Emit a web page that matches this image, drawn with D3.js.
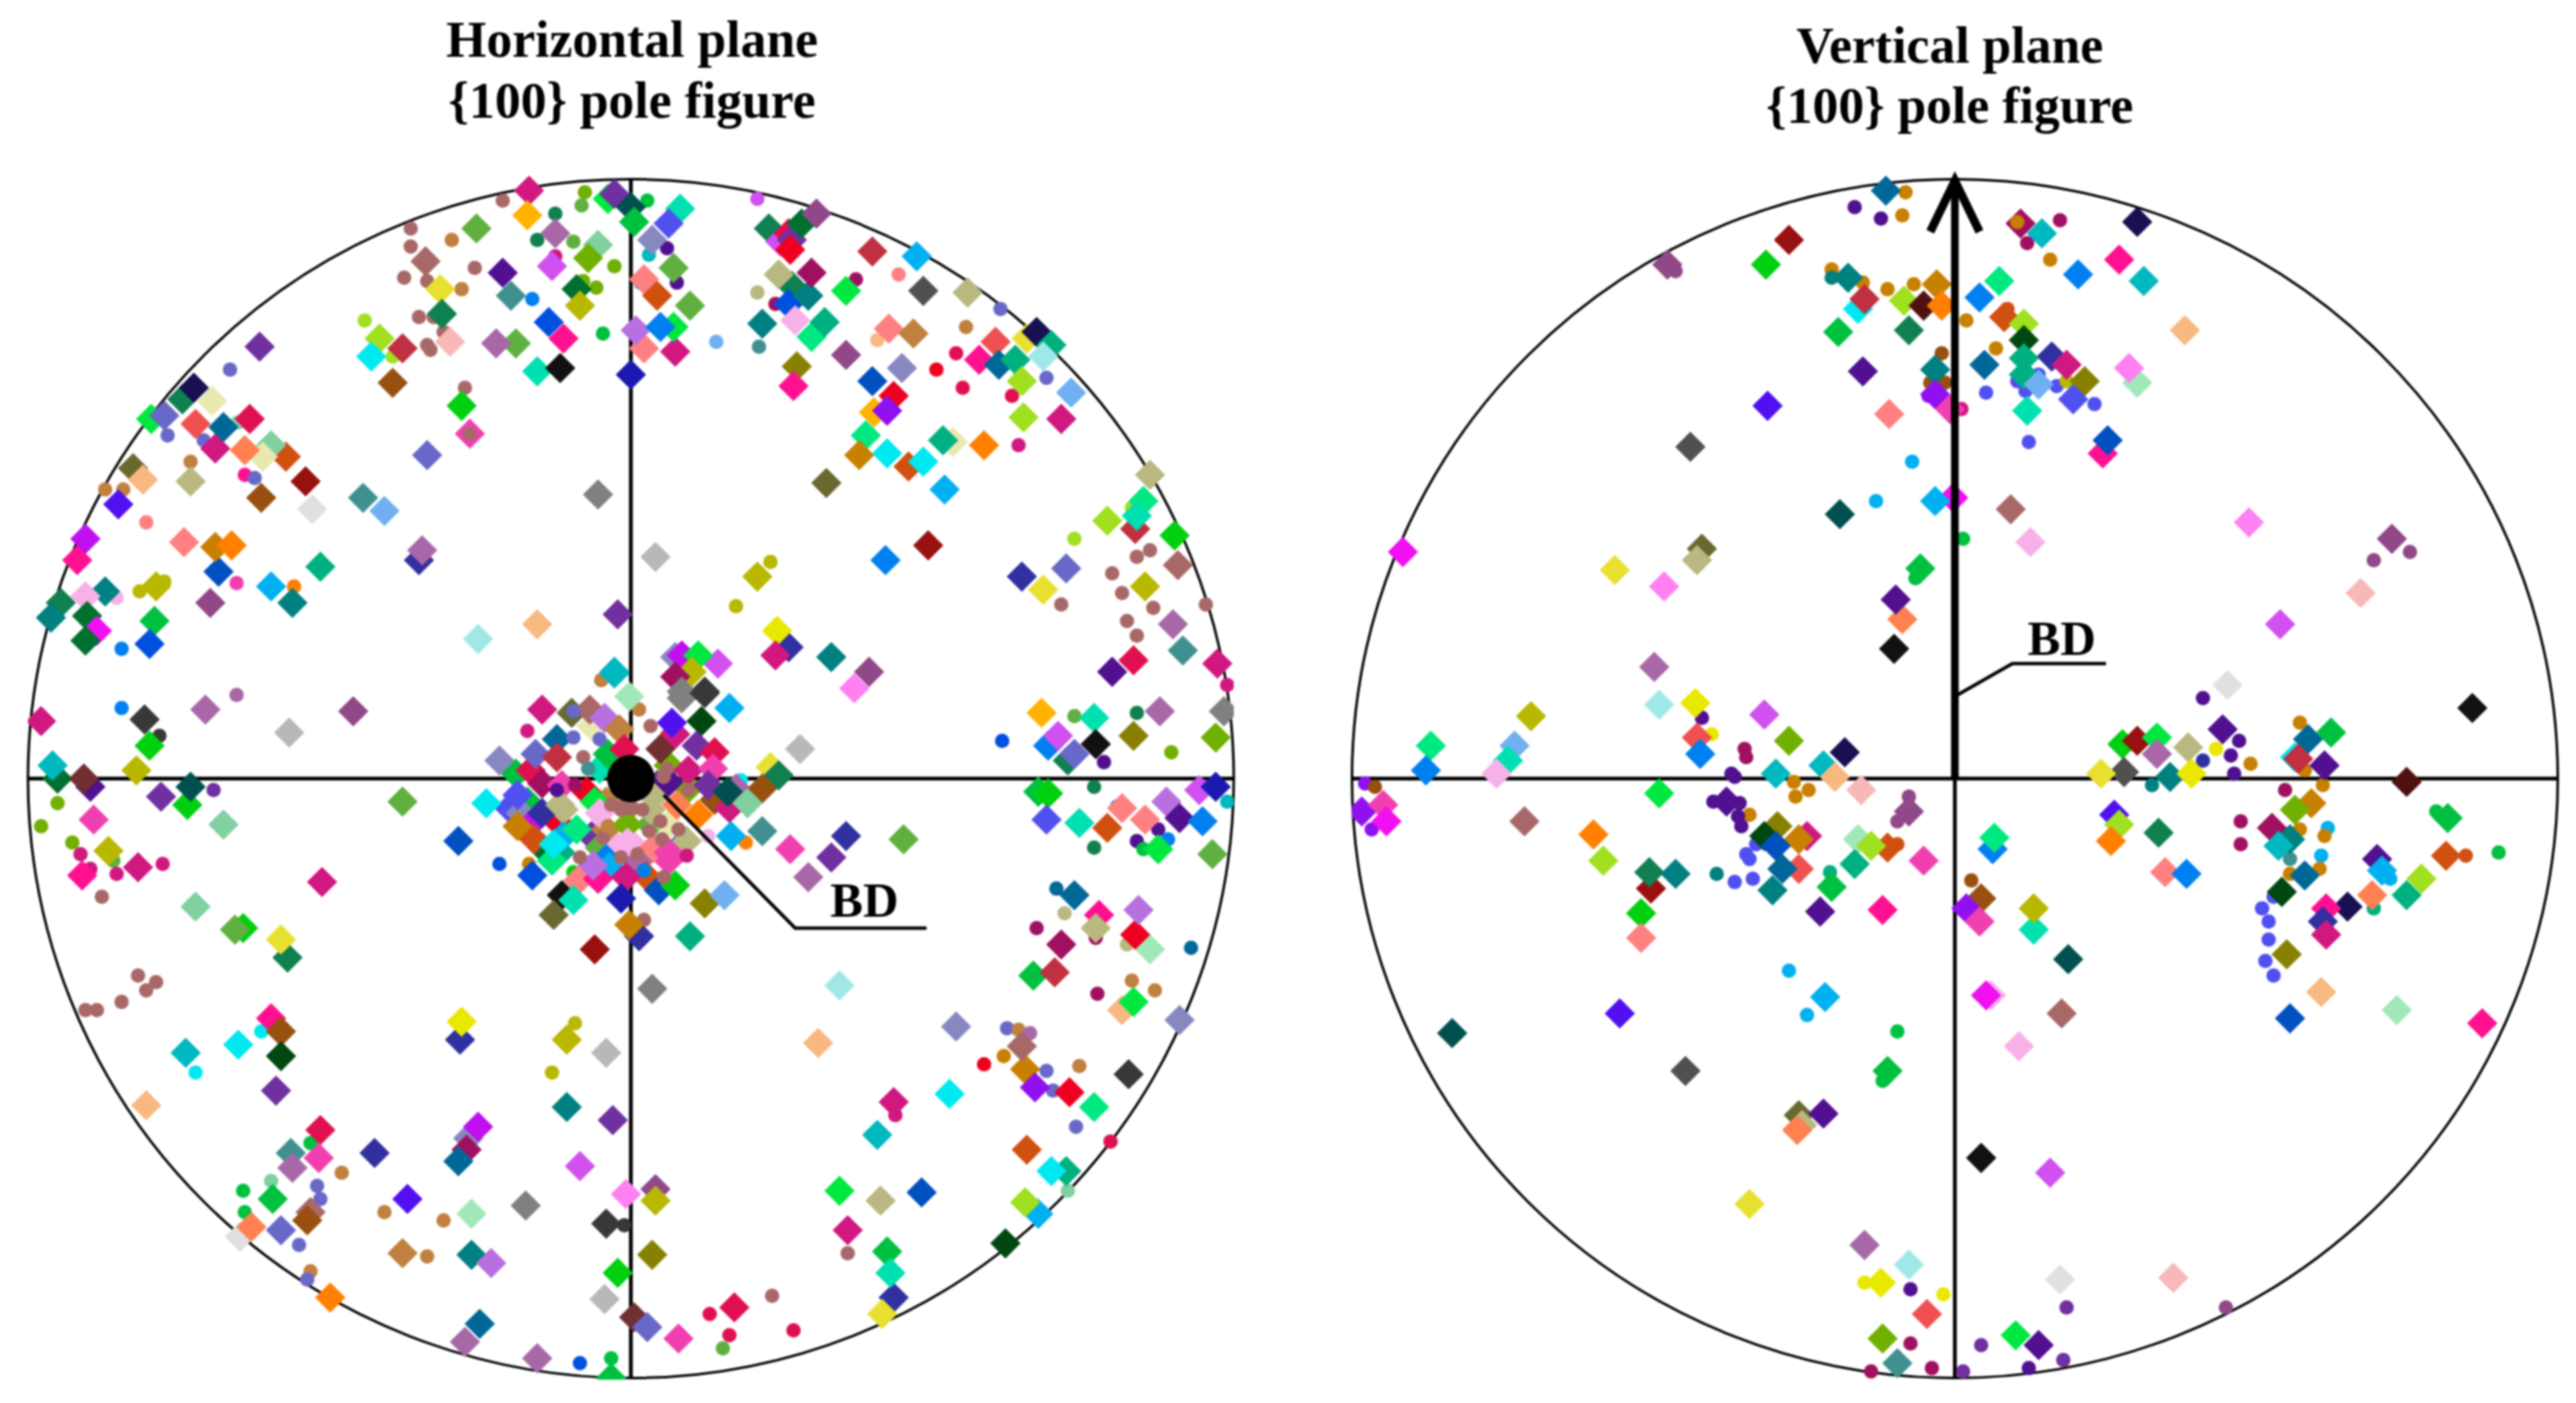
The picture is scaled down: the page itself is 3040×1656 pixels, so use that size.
<!DOCTYPE html>
<html><head><meta charset="utf-8">
<script src="https://cdn.jsdelivr.net/npm/d3@7/dist/d3.min.js"></script>
<style>html,body{margin:0;padding:0;background:#fff}svg{display:block;filter:blur(0.8px)}text{font-family:"Liberation Serif",serif;font-weight:bold;fill:#000}</style>
</head><body><div id="chart"></div>
<script>
// Each row: [pole-figure x, pole-figure y, grain colour class]. Circle extent = poleExtentX / poleExtentY.
const poleExtentX = 367, poleExtentY = 365;
const titles = {left:["Horizontal plane","{100} pole figure"], right:["Vertical plane","{100} pole figure"]};
const bdLabel = "BD";
const grainClasses = ["rose","pink","hotpink","magenta","orchid","violet","purple","dpurple","vio2","indigo","iris","slate","lav","lilac","plum","mauve","wine","crimson","red","dred","brick","coral","salmon","peach","lpink","spink","mpink","orange","dorange","lorange","amber","ochre","tan","brown","maroon","dmaroon","rosewood","yellow","lyellow","olive","golive","khaki","pale","dolive","lime","lgreen","green","bgreen","pure","dgreen","fgreen","sage","mgreen","mint","sea","spring","aqua","jade","teal","dteal","cyan","dcyan","lcyan","steel","sky","lsky","azure","blue","dblue","navy","midnight","ocean","cobalt","black","char","dgray","gray","lgray","silver"];
const grainColors = ["#d01880","#ff1090","#f040b0","#f010f0","#d050f0","#c010f0","#7030a0","#501090","#9010f0","#5010f0","#5050f0","#6868c8","#8888c0","#b870e0","#a868a8","#904888","#a01060","#e01050","#f00020","#981010","#c03040","#f05050","#ff8080","#f8b880","#f8b0e8","#f8b8b8","#ff80f0","#ff8000","#d05010","#ff8050","#ffb300","#c88000","#c08040","#985010","#703030","#501010","#a86868","#e8e800","#e8e030","#888000","#b8b800","#b8b880","#e8e8b0","#686830","#a0e020","#70b000","#00c040","#00e840","#00d010","#007030","#004810","#60b040","#108050","#a0e8b8","#80d0a0","#00e880","#00e0b0","#00b080","#008080","#005050","#00e8f0","#00b8c0","#a0e8e8","#409090","#00b0f0","#70b0f0","#0080f0","#0050e0","#0050c0","#1a1ab0","#181050","#006898","#3030a0","#111111","#383838","#505050","#808080","#b8b8b8","#e0e0e0"];

const hDots = [
[-78,352,"rosewood"],[-28,357,"lgreen"],[-30,349,"sage"],[-46,344,"mgreen"],[10,352,"green"],[2,339,"purple"],[77,353,"orchid"],[85,336,"ocean"],[22,323,"dpurple"],[11,319,"dcyan"],[-35,327,"sage"],[-57,328,"mgreen"],[-10,312,"lgreen"],[-46,318,"rose"],[-29,303,"lgreen"],[-21,299,"lgreen"],[-60,292,"azure"],[6,302,"azure"],[28,302,"dpurple"],[-17,271,"green"],[52,266,"lsky"],[78,263,"steel"],[77,296,"khaki"],[88,289,"wine"],[137,304,"wine"],[163,307,"salmon"],[150,267,"peach"],[204,275,"tan"],[225,286,"slate"],[198,259,"crimson"],[186,249,"red"],[202,238,"crimson"],[232,233,"crimson"],[253,244,"slate"],[236,203,"rose"],
[-134,335,"rosewood"],[-134,324,"rosewood"],[-109,328,"tan"],[-95,311,"rosewood"],[-138,305,"rosewood"],[-124,303,"rosewood"],[-103,298,"tan"],[-129,281,"rosewood"],[-120,281,"rosewood"],[-114,272,"rosewood"],[-124,264,"rosewood"],[-122,261,"rosewood"],[-145,257,"lime"],[-162,279,"lime"],[-244,249,"slate"],[-101,238,"rosewood"],[-239,217,"sea"],[-282,209,"slate"],[-260,206,"slate"],[-268,193,"tan"],[-235,185,"pink"],[-229,183,"slate"],[-320,176,"tan"],[-309,176,"tan"],[-295,156,"salmon"],[-205,117,"orange"],[-240,119,"hotpink"],[-299,114,"golive"],[-284,120,"golive"],[-313,110,"lpink"],[-310,79,"azure"],[-240,51,"plum"],[85,132,"golive"],[64,105,"golive"],[270,146,"lime"],[305,165,"lime"],[316,139,"rosewood"],[308,135,"rosewood"],[293,125,"rosewood"],[299,113,"rosewood"],[262,106,"rosewood"],[318,104,"rosewood"],[302,96,"rosewood"],[308,87,"rosewood"],[350,106,"rosewood"],[363,57,"rose"],[-18,60,"tan"],
[-310,43,"azure"],[-287,26,"char"],[-254,-7,"purple"],[-349,-15,"lgreen"],[-359,-29,"lgreen"],[-340,-39,"lgreen"],[-335,-46,"rose"],[-329,-55,"rose"],[-315,-50,"sage"],[-313,-58,"rose"],[-285,-52,"rose"],[-322,-72,"rosewood"],[-300,-120,"rosewood"],[-289,-124,"rosewood"],[-295,-129,"rosewood"],[-310,-136,"rosewood"],[-325,-141,"rosewood"],[-332,-141,"rosewood"],[-225,-154,"cyan"],[-265,-179,"cyan"],[-195,-222,"green"],[-176,-240,"tan"],[-236,-251,"green"],[-219,-245,"sea"],[-191,-248,"slate"],[-189,-256,"slate"],[-235,-264,"green"],[-202,-284,"slate"],[-195,-300,"tan"],[-197,-305,"slate"],[-150,-264,"tan"],[-114,-269,"tan"],[-124,-291,"tan"],[-4,-272,"char"],[-34,-149,"golive"],[-48,-179,"golive"],[-31,-356,"blue"],[-12,-353,"green"],[56,-347,"sage"],[60,-339,"crimson"],[48,-326,"crimson"],[99,-336,"crimson"],[86,-315,"rosewood"],[132,-289,"rosewood"],[161,-205,"rose"],[266,-251,"sea"],[292,-221,"crimson"],[271,-212,"slate"],[215,-174,"red"],[227,-169,"ochre"],[253,-178,"slate"],[257,-190,"slate"],[273,-175,"tan"],[229,-152,"slate"],[236,-153,"tan"],[243,-155,"plum"],[305,-123,"tan"],[319,-129,"tan"],[284,-131,"wine"],[341,-103,"ocean"],[302,-101,"khaki"],[247,-91,"wine"],[264,-82,"khaki"],[259,-67,"ocean"],[283,-97,"wine"],[226,23,"blue"],[329,16,"lgreen"],[308,40,"mgreen"],[270,38,"sage"],[288,10,"dpurple"],[282,-5,"mgreen"],[296,-17,"azure"],[321,-31,"dpurple"],[327,-37,"azure"],[308,-38,"dpurple"],[312,-43,"green"],[282,-42,"mgreen"],[363,-14,"dcyan"],[-63,29,"rose"],[-80,-52,"blue"],[-62,-52,"ochre"],[-18,60,"tan"],[5,42,"tan"],[12,32,"rosewood"],[22,26,"tan"],[8,-86,"rosewood"],[70,-39,"orange"],[47,-35,"lpink"],[-35,-57,"pure"],[67,-1,"cyan"]
];
const hDiamonds = [
[-14,353,"bgreen"],[-62,358,"rose"],[-63,343,"amber"],[-46,332,"plum"],[-94,335,"sage"],[-10,356,"purple"],[0,348,"dteal"],[30,347,"aqua"],[23,338,"iris"],[13,328,"lav"],[2,339,"green"],[-20,325,"sea"],[-26,317,"lgreen"],[-48,312,"orchid"],[-78,308,"dpurple"],[-116,298,"lyellow"],[-125,315,"rosewood"],[-73,294,"steel"],[-33,298,"dgreen"],[-31,288,"golive"],[-50,278,"blue"],[-41,268,"pink"],[-70,265,"sage"],[-82,265,"plum"],[-115,283,"mgreen"],[-110,266,"spink"],[-139,262,"brick"],[-153,268,"lime"],[-158,257,"cyan"],[-145,241,"brown"],[-226,263,"purple"],[-57,248,"aqua"],[-43,250,"black"],[0,246,"navy"],[8,262,"salmon"],[27,260,"rose"],[26,275,"bgreen"],[3,273,"lilac"],[18,275,"azure"],[8,304,"salmon"],[16,294,"dorange"],[36,288,"sage"],[26,311,"sage"],
[84,335,"mgreen"],[91,327,"orchid"],[96,332,"crimson"],[98,328,"purple"],[98,300,"mgreen"],[96,289,"blue"],
[80,277,"teal"],[101,251,"olive"],[99,239,"pink"],[131,258,"mauve"],[110,269,"spring"],[118,278,"jade"],[100,279,"lpink"],[108,294,"teal"],[90,307,"khaki"],[110,308,"wine"],[97,322,"red"],[104,338,"dgreen"],[113,344,"mauve"],[131,297,"bgreen"],[147,321,"brick"],[174,318,"sky"],[178,297,"dgray"],[205,296,"khaki"],[157,274,"salmon"],[172,271,"tan"],[165,250,"lav"],[147,242,"dblue"],[148,223,"amber"],[160,233,"red"],[156,224,"vio2"],[143,209,"spring"],[139,197,"ochre"],[169,190,"dorange"],[156,198,"cyan"],[178,193,"cyan"],[196,205,"pale"],[190,206,"jade"],[215,203,"orange"],[191,176,"sky"],[119,180,"dolive"],[212,255,"pink"],[222,266,"coral"],[224,252,"ocean"],[234,255,"jade"],[241,268,"lyellow"],[247,272,"midnight"],[256,264,"jade"],[251,257,"lcyan"],[238,242,"lime"],[268,235,"lsky"],[239,220,"lime"],[262,219,"rose"],[316,185,"khaki"],[312,169,"spring"],[307,152,"brick"],[308,160,"aqua"],[290,157,"lime"],[331,148,"pure"],[181,142,"dred"],[155,133,"azure"],[15,135,"lgray"],[-20,173,"gray"],[265,128,"slate"],[238,123,"cobalt"],[251,115,"lyellow"],[333,130,"rosewood"],[313,117,"golive"],[330,94,"plum"],[336,78,"steel"],[306,72,"crimson"],[293,65,"dpurple"],[357,70,"rose"],[77,123,"golive"],[96,80,"cobalt"],[89,90,"yellow"],[88,75,"rose"],[122,74,"teal"],[145,65,"mauve"],[136,55,"mpink"],[53,70,"orchid"],[27,74,"lav"],[31,75,"violet"],[41,75,"bgreen"],[37,65,"golive"],[27,62,"wine"],[45,53,"char"],[31,53,"gray"],[-8,100,"purple"],[-10,65,"dcyan"],[-57,94,"peach"],[-93,85,"lcyan"],
[-129,133,"cobalt"],[-127,139,"plum"],[-189,129,"jade"],[-219,117,"sky"],[-206,107,"teal"],[-251,126,"dblue"],[-256,107,"mauve"],[-289,117,"golive"],[-290,96,"green"],[-293,82,"blue"],[-320,114,"teal"],[-332,111,"lpink"],[-331,99,"dgreen"],[-347,107,"mgreen"],[-353,98,"teal"],[-325,90,"magenta"],[-332,84,"dgreen"],[-337,133,"pink"],[-332,146,"violet"],[-312,167,"indigo"],[-272,144,"salmon"],[-253,141,"ochre"],[-243,142,"orange"],[-194,164,"silver"],[-225,171,"brown"],[-198,181,"dred"],[-268,181,"khaki"],[-303,189,"dolive"],[-297,182,"peach"],[-163,171,"steel"],[-150,163,"lsky"],[-124,197,"slate"],[-98,210,"hotpink"],[-103,227,"pure"],[-210,196,"dorange"],[-219,203,"sea"],[-224,196,"pale"],[-235,200,"lorange"],[-253,201,"rose"],[-248,214,"ocean"],[-232,219,"crimson"],[-265,216,"coral"],[-292,219,"bgreen"],[-284,221,"slate"],[-273,231,"mgreen"],[-266,238,"midnight"],[-255,230,"pale"],
[-359,35,"rose"],[-296,36,"char"],[-259,42,"plum"],[-208,28,"lgray"],[-169,41,"mauve"],[-293,20,"pure"],[-301,5,"golive"],[-349,0,"dgreen"],[-352,8,"dcyan"],[-329,-5,"dpurple"],[-333,0,"maroon"],[-270,-16,"pure"],[-286,-11,"purple"],[-268,-5,"dteal"],[-327,-25,"hotpink"],[-248,-28,"sea"],[-139,-14,"sage"],[-318,-44,"golive"],[-334,-59,"pink"],[-300,-54,"rose"],[-188,-63,"rose"],[-265,-78,"sea"],[-236,-91,"pure"],[-241,-92,"sage"],[-209,-109,"mgreen"],[-213,-98,"lyellow"],[-219,-146,"pink"],[-213,-154,"brown"],[-239,-162,"cyan"],[-271,-167,"dcyan"],[-213,-169,"fgreen"],[-216,-190,"purple"],[-295,-199,"peach"],[-189,-214,"crimson"],[-207,-228,"steel"],[-190,-231,"hotpink"],[-206,-237,"plum"],[-156,-228,"cobalt"],[-218,-256,"green"],[-238,-279,"silver"],[-231,-273,"lorange"],[-213,-275,"slate"],[-195,-264,"rosewood"],[-197,-269,"brown"],[-183,-316,"orange"],[-136,-256,"indigo"],[-97,-265,"mint"],[-64,-260,"gray"],[-139,-289,"tan"],[-97,-290,"teal"],[-85,-295,"lilac"],[-92,-332,"ocean"],[-101,-343,"plum"],[-57,-353,"plum"],[-12,-365,"green"],[-15,-271,"char"],[-8,-301,"pure"],[13,-290,"olive"],[-16,-317,"lgray"],[2,-328,"maroon"],[10,-334,"slate"],[29,-341,"hotpink"],[63,-322,"crimson"],[160,-316,"cobalt"],[153,-326,"lyellow"],[156,-288,"green"],[158,-301,"aqua"],[132,-275,"rose"],[127,-251,"bgreen"],[152,-257,"khaki"],[177,-252,"dblue"],[228,-283,"fgreen"],[248,-265,"sky"],[240,-258,"lime"],[265,-239,"jade"],[256,-239,"cyan"],[241,-226,"dorange"],[150,-217,"dcyan"],[160,-197,"rose"],[194,-192,"cyan"],[282,-200,"spring"],[240,-177,"ochre"],[238,-163,"rosewood"],[246,-188,"vio2"],[267,-191,"red"],[303,-180,"char"],[198,-151,"lav"],[114,-161,"peach"],[127,-126,"lcyan"],[334,-147,"lav"],[299,-141,"peach"],[306,-136,"bgreen"],[245,-120,"green"],[258,-118,"brick"],[262,-101,"wine"],[316,-104,"mint"],[307,-95,"red"],[285,-83,"pink"],[283,-91,"khaki"],[309,-80,"lilac"],[270,-71,"ocean"],
[-104,-159,"cobalt"],[-103,-148,"yellow"],[-39,-159,"golive"],[-15,-167,"lgray"],[-39,-200,"teal"],[-11,-208,"purple"],[-99,-219,"lav"],[-93,-212,"violet"],[-100,-226,"wine"],[-105,-233,"ocean"],[-31,-236,"orchid"],[15,-250,"mauve"],[-3,-253,"mpink"],[15,-257,"golive"],
[250,40,"amber"],[282,37,"aqua"],[322,41,"plum"],[361,41,"gray"],[356,25,"lgreen"],[306,26,"olive"],[283,21,"black"],[254,20,"azure"],[260,26,"orchid"],[266,11,"mgreen"],[270,15,"slate"],[248,-8,"green"],[254,-9,"pure"],[253,-25,"iris"],[273,-27,"aqua"],[290,-30,"dorange"],[299,-18,"salmon"],[313,-25,"salmon"],[326,-14,"lilac"],[334,-24,"dpurple"],[348,-26,"azure"],[346,-7,"orchid"],[356,-5,"navy"],[354,-46,"sage"],[321,-43,"bgreen"],
[166,-37,"sage"],[131,-35,"cobalt"],[122,-48,"purple"],[108,-60,"plum"],[97,-43,"hotpink"],
// central cluster
[-70,3,"green"],[-61,5,"crimson"],[-74,-18,"iris"],[-63,-14,"green"],[-67,-21,"lav"],[-59,-26,"violet"],[-45,-26,"red"],[-41,-19,"khaki"],[-24,-35,"purple"],[-15,-31,"tan"],[-19,-42,"sage"],[-8,-42,"lpink"],[3,-42,"lpink"],[-15,-49,"azure"],[-15,-14,"tan"],[-2,-18,"rosewood"],[12,-28,"sage"],[23,-28,"pale"],[29,-42,"blue"],[23,-50,"hotpink"],[5,-50,"plum"],[9,-59,"dorange"],[-26,-56,"iris"],[-13,-54,"sky"],[-43,-45,"jade"],[-54,-42,"dgreen"],[-41,-35,"sky"],[-19,6,"aqua"],[23,8,"lgreen"],[35,-6,"lgreen"],[51,-13,"brown"],[60,-18,"rose"],[64,-6,"plum"],[27,27,"rose"],[16,-4,"purple"],[14,-11,"khaki"],[-24,32,"pale"],
[-54,42,"rose"],[-36,40,"dolive"],[-25,42,"rosewood"],[-16,37,"lilac"],[-7,30,"tan"],[-45,24,"ocean"],[-58,15,"slate"],[-45,13,"brick"],[-80,11,"lav"],[-14,15,"green"],[-4,18,"crimson"],[25,34,"indigo"],[43,35,"fgreen"],[31,49,"gray"],[45,52,"char"],[60,43,"sky"],[-1,50,"mint"],[-10,64,"dcyan"],[18,18,"maroon"],[40,20,"purple"],[51,16,"crimson"],[35,5,"rose"],[50,6,"hotpink"],[47,-4,"purple"],[59,-8,"dteal"],[85,7,"lyellow"],[90,2,"mgreen"],[80,-6,"brown"],[103,18,"lgray"],[71,-15,"sea"],[28,-16,"lorange"],[41,-22,"orange"],[61,-35,"sky"],[80,-32,"steel"],[23,-2,"dpurple"],
[-69,-10,"iris"],[-54,-3,"wine"],[-42,-4,"hotpink"],[-27,-8,"red"],[-54,-21,"cobalt"],[-88,-15,"cyan"],[-59,-37,"dorange"],[-69,-29,"ochre"],[-43,-16,"khaki"],[-33,-31,"spring"],[-48,-50,"spring"],[-47,-40,"cyan"],[-60,-59,"blue"],[-32,-62,"salmon"],[-20,-61,"pink"],[-3,-60,"rose"],[-23,-53,"lilac"],[-22,-14,"bgreen"],[-19,-21,"lpink"],[12,-19,"khaki"],[-2,-28,"lgreen"],[34,-38,"khaki"],[14,-42,"salmon"],[23,-45,"hotpink"],[-2,-39,"lpink"],[17,-68,"dblue"],[27,-65,"pure"],[-6,-73,"navy"],[-42,-71,"black"],[-35,-74,"aqua"],[-47,-83,"dolive"],[5,-96,"cobalt"],[-1,-89,"ochre"],[-22,-104,"dred"],[36,-96,"jade"],[45,-76,"olive"],[57,-71,"lsky"],[13,-128,"gray"],[-105,-38,"dblue"]
];
const hTopDots = [[-98,210,"rosewood"],[-12,-16,"rosewood"],[-2,-18,"rosewood"],[7,-19,"rosewood"],[-6,-19,"rosewood"],[18,-26,"rosewood"],[11,-32,"rosewood"],[19,-37,"rosewood"],[29,-31,"rosewood"],[-6,-48,"rosewood"],[4,-46,"rosewood"],[20,-60,"rosewood"],[8,-56,"azure"],[21,-50,"hotpink"],[34,-47,"rose"],[-17,-36,"rosewood"],[-31,-48,"rosewood"],[-14,-29,"tan"],[35,-7,"rosewood"],[22,6,"rosewood"],[20,1,"rosewood"],[-29,13,"rosewood"],[-19,24,"slate"],[-35,41,"slate"],[-35,25,"slate"],[-26,6,"steel"],[-45,-7,"dpurple"],[-34,-4,"wine"]];

const vDots = [
[-30,357,"ochre"],[-61,348,"dpurple"],[-45,341,"dpurple"],[-32,343,"ochre"],[44,326,"wine"],[64,340,"wine"],[58,316,"ochre"],[-75,310,"ochre"],[-75,305,"teal"],[-56,302,"ochre"],[-41,298,"ochre"],[-25,301,"ochre"],[32,286,"dorange"],[7,279,"ochre"],[25,262,"ochre"],[-8,259,"brown"],[-15,241,"brown"],[-6,241,"brown"],[-16,233,"vio2"],[4,225,"rose"],[38,242,"iris"],[43,236,"iris"],[19,235,"iris"],[51,246,"iris"],[62,239,"iris"],[85,228,"iris"],[45,205,"iris"],[43,244,"jade"],[68,242,"golive"],[-26,193,"sky"],[-48,169,"sky"],[5,146,"green"],[255,133,"mauve"],[277,138,"mauve"],[-170,309,"mauve"],[-24,122,"green"],[151,49,"dpurple"],
[-154,37,"dpurple"],[-148,27,"yellow"],[-128,18,"wine"],[-127,13,"wine"],[-136,3,"dpurple"],[-134,1,"dpurple"],[-359,-3,"vio2"],[-353,-5,"brown"],[-98,-2,"ochre"],[-89,-7,"ochre"],[-97,-11,"ochre"],[-147,-14,"dpurple"],[-131,-15,"dpurple"],[-125,-22,"ochre"],[-132,-23,"dpurple"],[-130,-29,"dpurple"],[-355,-31,"vio2"],[-35,-26,"mauve"],[-28,-11,"mauve"],[-121,-40,"iris"],[-127,-46,"iris"],[-125,-49,"iris"],[-145,-58,"teal"],[-134,-63,"iris"],[-123,-61,"iris"],[-76,-57,"jade"],[-35,-40,"dorange"],[-101,-117,"sky"],[-90,-144,"sky"],[-35,-154,"green"],[-44,-184,"green"],[-55,-307,"yellow"],[-27,-311,"dpurple"],[-7,-314,"yellow"],[-27,-344,"wine"],[-51,-361,"wine"],[-14,-359,"wine"],[5,-361,"purple"],[16,-345,"purple"],[45,-359,"dpurple"],[66,-354,"purple"],[68,-322,"purple"],[165,-322,"mauve"],[10,-62,"brown"],
[210,34,"ochre"],[159,18,"yellow"],[173,23,"dpurple"],[168,14,"dpurple"],[151,11,"cobalt"],[180,9,"ochre"],[170,3,"dpurple"],[120,-4,"teal"],[201,-7,"wine"],[224,-4,"ochre"],[213,5,"ochre"],[210,-31,"ochre"],[174,-26,"wine"],[174,-40,"wine"],[227,-30,"sky"],[225,-35,"ochre"],[223,-47,"sky"],[204,-49,"steel"],[222,-55,"ochre"],[204,-58,"ochre"],[311,-47,"dorange"],[331,-45,"green"],[293,-20,"green"],[265,-61,"sky"],[255,-79,"jade"],[194,-72,"iris"],[187,-79,"iris"],[191,-87,"iris"],[191,-98,"iris"],[189,-111,"iris"],[194,-120,"iris"]
];
const vDiamonds = [
[-42,358,"ocean"],[-101,328,"dred"],[-115,313,"pure"],[-175,313,"mauve"],[-65,305,"teal"],[-59,286,"cyan"],[-55,292,"brick"],[-31,291,"lime"],[-11,301,"ochre"],[-19,288,"dmaroon"],[-8,288,"orange"],[-71,272,"green"],[-28,273,"mgreen"],[15,293,"azure"],[27,303,"spring"],[30,281,"dorange"],[42,277,"lime"],[42,267,"fgreen"],[75,307,"azure"],[100,316,"pink"],[115,303,"dcyan"],[140,273,"peach"],[40,338,"wine"],[53,332,"dcyan"],[111,339,"midnight"],[59,257,"cobalt"],[42,256,"jade"],[42,246,"jade"],[68,252,"rose"],[79,242,"olive"],[18,252,"ocean"],[-12,249,"teal"],[-12,234,"vio2"],[-56,248,"dpurple"],[-114,227,"indigo"],[-40,222,"salmon"],[-3,225,"hotpink"],[44,224,"aqua"],[72,231,"iris"],[111,241,"mint"],[106,250,"mpink"],[51,240,"lsky"],[90,198,"pink"],[93,206,"dblue"],[-161,202,"dgray"],[-1,171,"magenta"],[-12,169,"sky"],[34,164,"rosewood"],[-70,161,"dteal"],[-336,138,"magenta"],[-154,140,"dolive"],[-157,133,"khaki"],[-207,127,"lyellow"],[-177,117,"mpink"],[-21,128,"green"],[46,144,"lpink"],[179,156,"mpink"],[266,146,"mauve"],[247,113,"spink"],[198,94,"orchid"],[-32,97,"lorange"],[-36,109,"dpurple"],[-37,79,"black"],[-183,68,"plum"],[166,57,"silver"],[315,43,"black"],
[-180,45,"lcyan"],[-158,46,"yellow"],[-116,39,"orchid"],[-258,38,"golive"],[-319,20,"spring"],[-268,20,"lsky"],[-272,11,"aqua"],[-322,5,"azure"],[-279,3,"lpink"],[-157,25,"coral"],[-155,15,"azure"],[-101,23,"lgreen"],[-67,16,"midnight"],[-109,3,"dcyan"],[-80,8,"dcyan"],[-73,1,"peach"],[-57,-7,"spink"],[-180,-9,"bgreen"],[-361,-20,"vio2"],[-348,-16,"hotpink"],[-346,-26,"magenta"],[-262,-26,"rosewood"],[-220,-34,"orange"],[-214,-50,"lime"],[-185,-67,"dred"],[-186,-57,"mgreen"],[-170,-58,"teal"],[-191,-82,"pure"],[-191,-97,"salmon"],[-139,-14,"dpurple"],[-108,-29,"olive"],[-116,-35,"fgreen"],[-90,-35,"rose"],[-95,-37,"ochre"],[-109,-41,"dblue"],[-95,-55,"coral"],[-105,-55,"ocean"],[-111,-68,"teal"],[-75,-66,"green"],[-59,-37,"mint"],[-41,-42,"dorange"],[-51,-41,"lime"],[-61,-52,"jade"],[-19,-50,"hotpink"],[-82,-81,"dpurple"],[-44,-80,"pink"],[-28,-20,"mauve"],[-79,-133,"sky"],[-204,-143,"indigo"],[-306,-155,"dteal"],[-164,-178,"dgray"],[-41,-178,"green"],[-95,-205,"dolive"],[-80,-204,"dpurple"],[-93,-211,"khaki"],[-96,-214,"lorange"],[-125,-259,"lyellow"],[-55,-284,"plum"],[-28,-296,"lcyan"],[-45,-307,"yellow"],[-17,-326,"coral"],[-44,-341,"lgreen"],[-35,-356,"steel"],[16,-231,"black"],[58,-240,"orchid"],[39,-163,"lpink"],[65,-143,"rosewood"],[22,-132,"lpink"],[19,-132,"magenta"],[69,-110,"dteal"],[48,-92,"aqua"],[48,-79,"golive"],[16,-73,"brown"],[7,-79,"vio2"],[15,-87,"hotpink"],[23,-43,"azure"],[24,-36,"spring"],[64,-305,"silver"],[133,-304,"spink"],[37,-339,"bgreen"],[51,-345,"dpurple"],
[102,21,"pure"],[111,23,"dred"],[123,25,"bgreen"],[123,15,"plum"],[142,19,"khaki"],[163,30,"dpurple"],[103,4,"dgray"],[89,3,"lyellow"],[131,1,"teal"],[144,3,"yellow"],[215,24,"ocean"],[229,28,"green"],[207,13,"cyan"],[209,12,"brick"],[225,8,"dpurple"],[275,-2,"dmaroon"],[217,-15,"ochre"],[207,-19,"lgreen"],[97,-22,"indigo"],[100,-28,"lime"],[95,-38,"orange"],[124,-33,"mgreen"],[128,-57,"salmon"],[141,-58,"azure"],[193,-30,"wine"],[204,-37,"teal"],[197,-41,"dcyan"],[300,-24,"green"],[299,-47,"dorange"],[257,-49,"dpurple"],[260,-56,"sky"],[284,-61,"lime"],[275,-71,"jade"],[254,-71,"lorange"],[239,-78,"midnight"],[213,-59,"ocean"],[199,-69,"fgreen"],[226,-79,"pink"],[224,-87,"cobalt"],[226,-95,"rose"],[202,-107,"olive"],[223,-130,"peach"],[204,-146,"dblue"],[269,-141,"mint"],[321,-149,"pink"]
];
const vTopDots = [[38,339,"ochre"]];

const cfg = {
  left:{cx:744.5,cy:919,rx:711.5,ry:707.5,dots:hDots,diamonds:hDiamonds,top:hTopDots,titleX:746,titleY:[67,139],bdX:1020,bdY:1082,leader:[[20,-10],[100,-91],[180,-91]]},
  right:{cx:2307,cy:919,rx:711.5,ry:707.5,dots:vDots,diamonds:vDiamonds,top:vTopDots,titleX:2301,titleY:[74,145],bdX:2433,bdY:773,leader:[[0,50],[35,70],[92,70]]}
};
const svg = d3.select("#chart").append("svg").attr("width",3040).attr("height",1656);
const grainColor = d3.scaleOrdinal(grainClasses, grainColors);
const diamondPath = d3.symbol(d3.symbolSquare, 640)();

function panel(key){
  const c = cfg[key];
  const x = d3.scaleLinear([-poleExtentX,poleExtentX],[c.cx-c.rx,c.cx+c.rx]);
  const y = d3.scaleLinear([-poleExtentY,poleExtentY],[c.cy+c.ry,c.cy-c.ry]);
  const g = svg.append("g");
  svg.append("clipPath").attr("id","clip-"+key).append("rect")
    .attr("x",c.cx-c.rx).attr("y",c.cy-c.ry-6).attr("width",2*c.rx).attr("height",2*c.ry+8);
  const marks = g.append("g").attr("clip-path",`url(#clip-${key})`);
  const dots = (rows)=>marks.append("g").selectAll("circle").data(rows).join("circle")
    .attr("cx",d=>x(d[0])).attr("cy",d=>y(d[1])).attr("r",8.5).attr("fill",d=>grainColor(d[2]));

  const axes = g.insert("g",":first-child").attr("stroke","#000").attr("fill","none");
  axes.append("ellipse").attr("cx",x(0)).attr("cy",y(0)).attr("rx",c.rx).attr("ry",c.ry).attr("stroke-width",3);
  axes.append("line").attr("x1",x(-poleExtentX)).attr("x2",x(poleExtentX)).attr("y1",y(0)).attr("y2",y(0)).attr("stroke-width",4.5);
  axes.append("line").attr("x1",x(0)).attr("x2",x(0)).attr("y1",y(poleExtentY)).attr("y2",y(-poleExtentY)).attr("stroke-width",4.5);

  dots(c.dots);
  marks.append("g").selectAll("path").data(c.diamonds).join("path")
    .attr("d",diamondPath).attr("transform",d=>`translate(${x(d[0])},${y(d[1])}) rotate(45)`)
    .attr("fill",d=>grainColor(d[2]));
  dots(c.top);

  const over = g.append("g");
  const lineGen = d3.line().x(d=>x(d[0])).y(d=>y(d[1]));
  if(key==="left"){
    over.append("circle").attr("cx",x(0)).attr("cy",y(0)).attr("r",28).attr("fill","#000");
  } else {
    over.append("path").attr("d",lineGen([[0,0],[0,364]])).attr("stroke","#000").attr("stroke-width",9).attr("fill","none");
    over.append("path").attr("d",lineGen([[-15,333],[0,364],[15,333]])).attr("stroke","#000").attr("stroke-width",10).attr("fill","none");
  }
  over.append("path").attr("d",lineGen(c.leader)).attr("stroke","#000").attr("stroke-width",4).attr("fill","none");
  over.append("text").attr("x",c.bdX).attr("y",c.bdY).attr("text-anchor","middle").attr("font-size",58).text(bdLabel);
  titles[key].forEach((t,i)=>svg.append("text").attr("x",c.titleX).attr("y",c.titleY[i]).attr("text-anchor","middle").attr("font-size",61).text(t));
}
panel("left");
panel("right");
</script></body></html>
